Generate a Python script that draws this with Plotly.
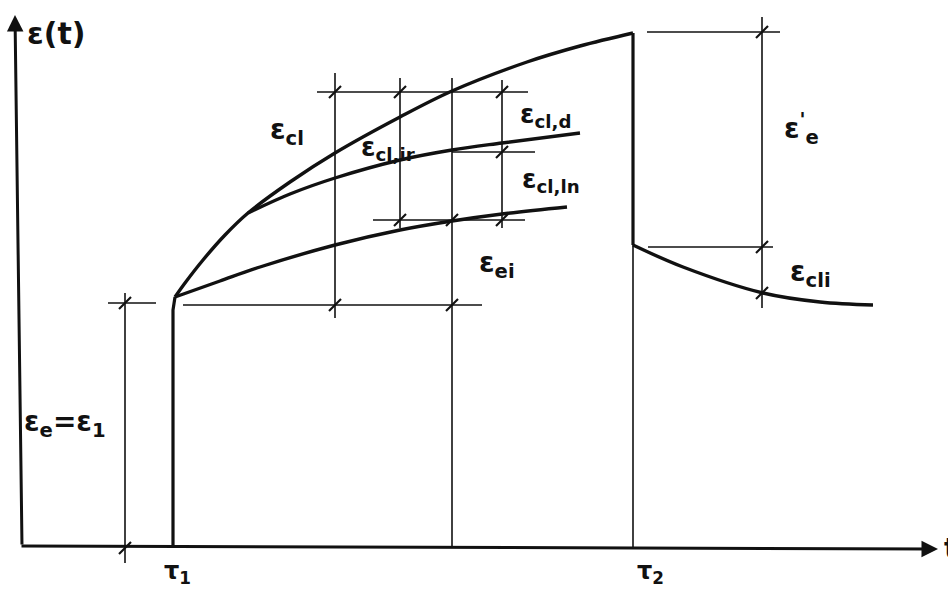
import plotly.graph_objects as go

# Coordinate system: t to the right, strain ε upward (drawing units)
# Total strain under sustained load, from τ1 up to unloading at τ2
total_t = [175, 185, 203, 225, 248, 290, 335, 400, 452, 527, 580, 633]
total_eps = [251, 265, 288, 313, 335, 366, 395, 431, 457, 486, 502, 515]

# Branch separating the delayed-elastic part of creep
branch_t = [248, 290, 335, 400, 452, 502, 580]
branch_eps = [335, 354, 370, 388, 398, 405, 415]

# Lower curve: elastic + irreversible (flow) part
lower_t = [175, 220, 260, 335, 400, 452, 502, 567]
lower_eps = [251, 267, 281, 303, 318, 327, 334, 341]

# Creep recovery after unloading at τ2
recovery_t = [633, 683, 763, 820, 873]
recovery_eps = [303, 281, 255, 246, 243]

# Instantaneous jumps at loading (τ1) and unloading (τ2)
tau1_t = [173, 173, 175]
tau1_eps = [0, 238, 251]
tau2_t = [633, 633]
tau2_eps = [515, 303]

# Dimension lines: (t0, eps0, t1, eps1)
dim_lines = [
    (125, 255, 125, -15),
    (108, 245, 156, 245),
    (183, 243, 482, 243),
    (335, 475, 335, 230),
    (400, 470, 400, 320),
    (452, 470, 452, 0),
    (502, 468, 502, 320),
    (317, 456, 528, 456),
    (452, 396, 535, 396),
    (373, 328, 525, 328),
    (633, 303, 633, 0),
    (762, 531, 762, 240),
    (647, 516, 780, 516),
    (648, 301, 773, 301),
]

# Tick marks on the dimension lines
tick_t = [125, 125, 335, 400, 502, 502, 400, 452, 502, 335, 452, 762, 762, 762]
tick_eps = [245, 0, 456, 456, 456, 396, 328, 328, 328, 243, 243, 516, 301, 255]

INK = "#111111"
FONT = "DejaVu Sans"

fig = go.Figure()

# thin dimension lines
dx, dy = [], []
for t0, e0, t1, e1 in dim_lines:
    dx += [t0, t1, None]
    dy += [e0, e1, None]
fig.add_trace(go.Scatter(x=dx, y=dy, mode="lines",
                         line=dict(color=INK, width=1.6), hoverinfo="skip"))

# slanted tick strokes
kx, ky = [], []
for t, e in zip(tick_t, tick_eps):
    kx += [t - 6, t + 6, None]
    ky += [e - 6, e + 6, None]
fig.add_trace(go.Scatter(x=kx, y=ky, mode="lines",
                         line=dict(color=INK, width=2.2), hoverinfo="skip"))

# main curves
for xs, ys in [(total_t, total_eps), (branch_t, branch_eps),
               (lower_t, lower_eps), (recovery_t, recovery_eps)]:
    fig.add_trace(go.Scatter(x=xs, y=ys, mode="lines",
                             line=dict(color=INK, width=3.4, shape="spline",
                                       smoothing=1.0),
                             hoverinfo="skip"))
for xs, ys in [(tau1_t, tau1_eps), (tau2_t, tau2_eps)]:
    fig.add_trace(go.Scatter(x=xs, y=ys, mode="lines",
                             line=dict(color=INK, width=3.2), hoverinfo="skip"))

annotations = []
# axes with arrowheads
annotations.append(dict(x=15, y=533, ax=22, ay=2, xref="x", yref="y",
                        axref="x", ayref="y", text="", showarrow=True,
                        arrowhead=2, arrowsize=1.1, arrowwidth=3,
                        arrowcolor=INK))
annotations.append(dict(x=938, y=-1, ax=20, ay=2, xref="x", yref="y",
                        axref="x", ayref="y", text="", showarrow=True,
                        arrowhead=2, arrowsize=1.1, arrowwidth=3,
                        arrowcolor=INK))

labels = [
    ("ε(t)", 56, 515, 30),
    ("ε<sub>cl</sub>", 287, 417, 28),
    ("ε<sub>cl,ir</sub>", 388, 400, 26),
    ("ε<sub>cl,d</sub>", 545, 433, 26),
    ("ε<sub>cl,ln</sub>", 551, 368, 26),
    ("ε<sub>ei</sub>", 497, 284, 28),
    ("ε<sub>cli</sub>", 810, 275, 28),
    ("ε<sub>e</sub>=ε<sub>1</sub>", 65, 125, 28),
    ("τ<sub>1</sub>", 177, -24, 24),
    ("τ<sub>2</sub>", 650, -24, 24),
    ("ε<sup>'</sup><sub>e</sub>", 801, 420, 28),
]
for text, x, y, size in labels:
    annotations.append(dict(x=x, y=y, xref="x", yref="y", text=text,
                            showarrow=False,
                            font=dict(family=FONT, size=size, color=INK,
                                      weight="bold")))
annotations.append(dict(x=942, y=0, xref="x", yref="y", text="t",
                        xanchor="left", showarrow=False,
                        font=dict(family=FONT, size=28, color=INK,
                                  weight="bold")))

fig.update_layout(
    width=948, height=589,
    margin=dict(l=0, r=0, t=0, b=0),
    paper_bgcolor="white", plot_bgcolor="white",
    showlegend=False,
    xaxis=dict(range=[0, 948], visible=False, fixedrange=True),
    yaxis=dict(range=[-41, 548], visible=False, fixedrange=True),
    annotations=annotations,
)

fig.write_html("out.html")
